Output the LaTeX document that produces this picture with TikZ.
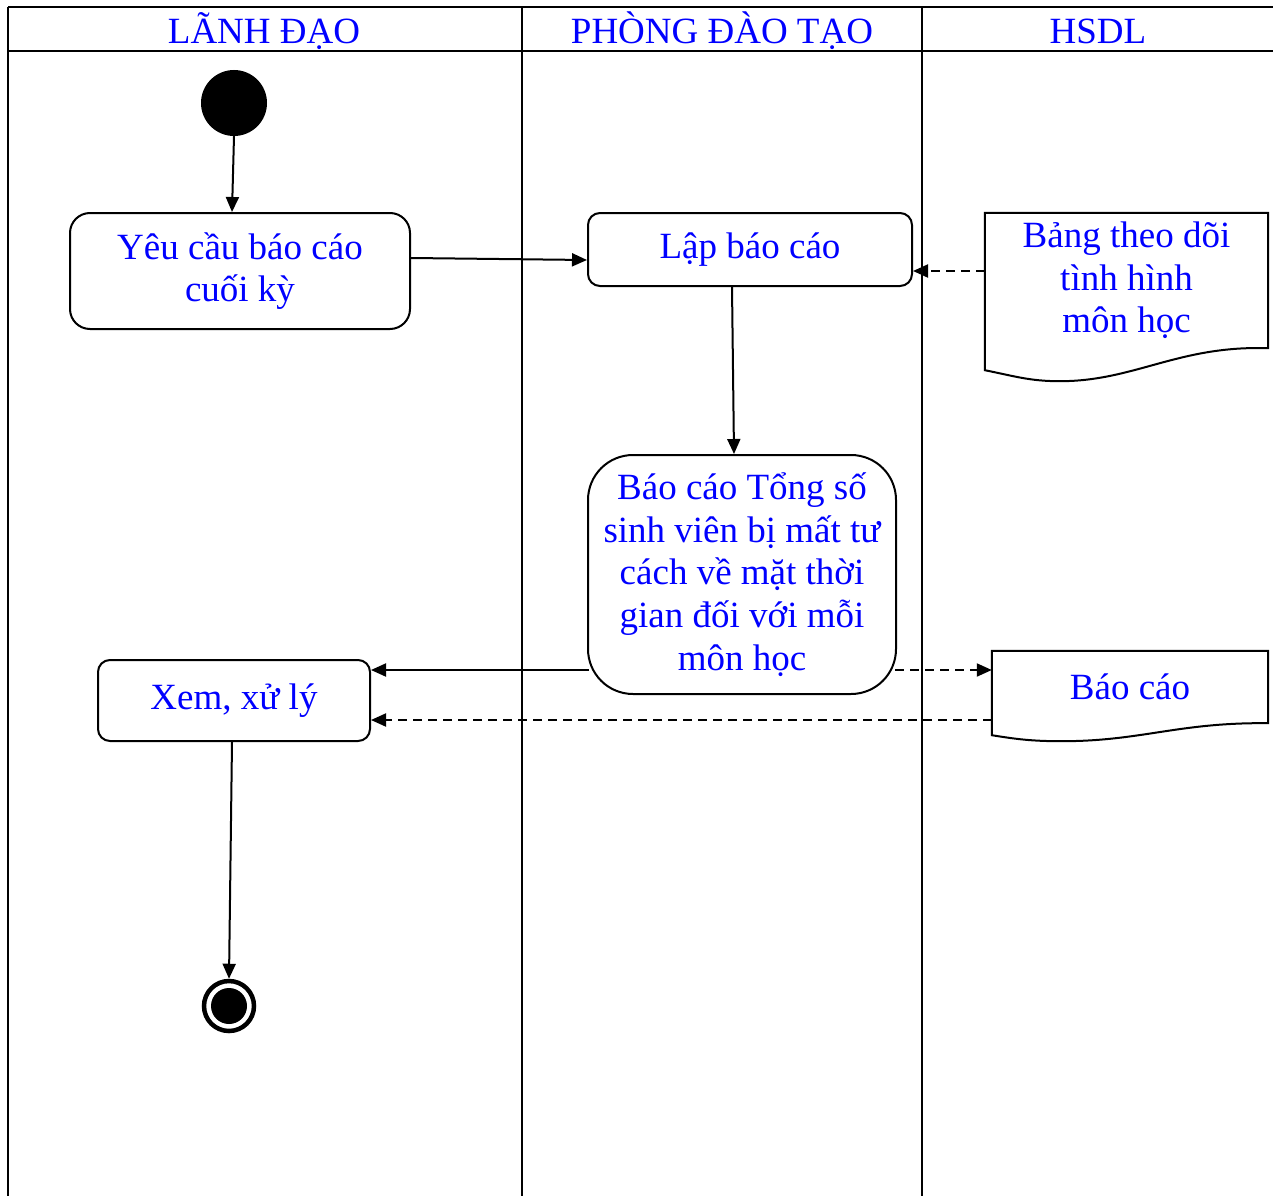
\documentclass[tikz,border=0pt]{standalone}
\usepackage{fontspec}
\setmainfont{Liberation Serif}
\usetikzlibrary{arrows.meta,calc}
\definecolor{txtblue}{RGB}{0,0,255}
\begin{document}
\begin{tikzpicture}[x=1pt,y=-1pt,
  every node/.style={font=\fontsize{37}{42.7}\selectfont, text=txtblue, align=center, inner sep=0pt},
  lane/.style={line width=2pt},
  act/.style={draw=black, line width=2pt, rounded corners=#1},
  docbox/.style={draw=none},
  docline/.style={line width=2pt},
  flow/.style={line width=2pt, -{Triangle[length=15pt,width=13pt]}},
  objflow/.style={flow, dashed, dash pattern=on 9pt off 6pt},
]
\useasboundingbox (0,0) rectangle (1273,1196);

% swimlane frame
\draw[lane] (8,7) -- (1273,7);
\draw[lane] (8,51) -- (1273,51);
\draw[lane] (8,7) -- (8,1196);
\draw[lane] (522,7) -- (522,1196);
\draw[lane] (922,7) -- (922,1196);

% lane titles
\node (h1) at (264,31) {LÃNH ĐẠO};
\node (h2) at (722,31) {PHÒNG ĐÀO TẠO};
\node (h3) at (1098,31) {HSDL};

% start / end
\node[circle, fill=black, minimum size=66pt] (start) at (234,103) {};
\node[circle, draw=black, line width=4.5pt, minimum size=50pt] (end) at (229,1006) {};
\fill[black] (end.center) circle (18pt);

% activities
\node[act=20pt, minimum width=340pt, minimum height=116pt] (yeu) at (240,271) {Yêu cầu báo cáo\\cuối kỳ};
\node[act=12pt, minimum width=324pt, minimum height=73pt] (lap) at (750,249.5) {Lập báo cáo};
\node[act=45pt, minimum width=308pt, minimum height=239pt] (tong) at (742,574.5)
  {Báo cáo Tổng số\\sinh viên bị mất tư\\cách về mặt thời\\gian đối với mỗi\\môn học};
\node[act=12pt, minimum width=272pt, minimum height=81pt] (xem) at (234,700.5) {Xem, xử lý};

% documents
\node[docbox, minimum width=283pt, minimum height=135pt] (doc1) at (1126.5,280.5)
  {Bảng theo dõi\\tình hình\\môn học};
\draw[docline] (doc1.south east) -- (doc1.north east) -- (doc1.north west) -- ($(doc1.south west)+(0,22)$)
  .. controls ($(doc1.south west)+(30,28)$) and ($(doc1.south west)+(45,33)$) .. ($(doc1.south west)+(75,33)$)
  .. controls ($(doc1.south west)+(150,33)$) and ($(doc1.south east)+(-90,-3)$) .. (doc1.south east) -- cycle;

\node[docbox, minimum width=276pt, minimum height=72pt] (bc) at (1130,687) {Báo cáo};
\draw[docline] (bc.south east) -- (bc.north east) -- (bc.north west) -- ($(bc.south west)+(0,12)$)
  .. controls ($(bc.south west)+(25,16)$) and ($(bc.south west)+(40,18)$) .. ($(bc.south west)+(70,18)$)
  .. controls ($(bc.south west)+(150,18)$) and ($(bc.south east)+(-90,-1)$) .. (bc.south east) -- cycle;

% control flow
\draw[flow] (start.south) -- ([xshift=-8pt]yeu.north);
\draw[flow] ([yshift=13pt]yeu.east) -- ([yshift=-10.5pt]lap.west);
\draw[flow] ([xshift=-18pt]lap.south) -- ([xshift=-8pt]tong.north);
\draw[flow] ([yshift=-95.5pt,xshift=2pt]tong.west) -- ([yshift=30.5pt]xem.east);
\draw[flow] ([xshift=-2pt]xem.south) -- (end.north);

% object flow
\draw[objflow] ([yshift=9.5pt]doc1.west) -- ([yshift=-21.5pt]lap.east);
\draw[objflow] ([yshift=-95.5pt,xshift=-2pt]tong.east) -- ([yshift=17pt]bc.west);
\draw[objflow] ([yshift=-33pt]bc.west) -- ([yshift=-19.5pt]xem.east);
\end{tikzpicture}
\end{document}
